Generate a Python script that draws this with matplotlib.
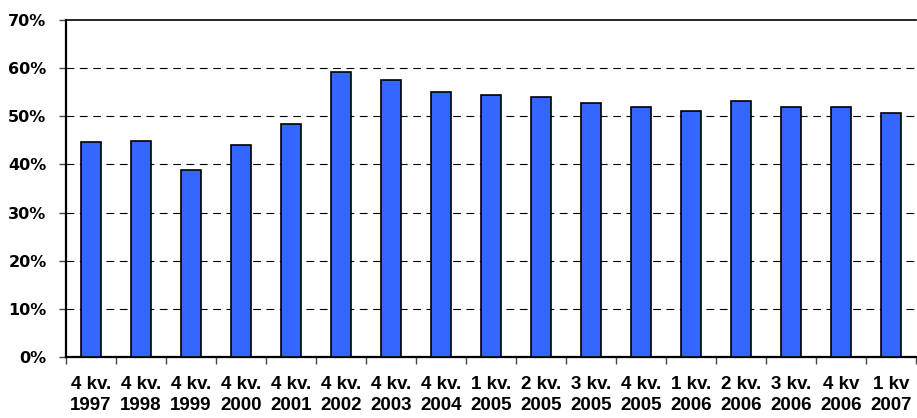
import numpy as np
import matplotlib.pyplot as plt
from matplotlib.ticker import FuncFormatter

quarters = ['4 kv.', '4 kv.', '4 kv.', '4 kv.', '4 kv.', '4 kv.', '4 kv.', '4 kv.',
            '1 kv.', '2 kv.', '3 kv.', '4 kv.', '1 kv.', '2 kv.', '3 kv.', '4 kv', '1 kv']
years = ['1997', '1998', '1999', '2000', '2001', '2002', '2003', '2004',
         '2005', '2005', '2005', '2005', '2006', '2006', '2006', '2006', '2007']
values = [44.7, 44.9, 38.9, 44.0, 48.4, 59.2, 57.5, 55.0,
          54.4, 54.1, 52.8, 51.9, 51.0, 53.2, 51.9, 51.9, 50.6]

labels = [q + '\n' + y for q, y in zip(quarters, years)]

fig = plt.figure(figsize=(9.17, 4.18), dpi=100)
ax = fig.add_axes([66 / 917, 61 / 418, 850 / 917, 337 / 418])

x = np.arange(len(values))
ax.bar(x, values, width=0.4, color='#3366ff', edgecolor='black', linewidth=1.2, zorder=3)

ax.set_xlim(-0.5, len(values) - 0.5)
ax.set_ylim(0, 70)
ax.set_yticks(np.arange(0, 71, 10))
ax.yaxis.set_major_formatter(FuncFormatter(lambda v, p: '%d%%' % v))

# dashed gridlines (top one is the frame)
for v in range(10, 70, 10):
    ax.axhline(v, color='black', linewidth=0.8, linestyle=(0, (7, 5)), zorder=1)

# ticks sit between the categories
ax.set_xticks(np.arange(len(values) + 1) - 0.5, minor=False)
ax.set_xticklabels([])
ax.set_xticks(x, minor=True)
ax.set_xticklabels(labels, minor=True)
for t in ax.get_xticklabels(minor=True):
    t.set_fontfamily('Liberation Sans')
    t.set_fontweight('bold')
    t.set_fontsize(13.5)
    t.set_linespacing(1.25)
ax.tick_params(axis='x', which='minor', length=0, pad=14)
ax.tick_params(axis='x', which='major', direction='out', length=5, width=1, color='#444444')
ax.tick_params(axis='y', direction='out', length=5, width=1, color='#444444', pad=9)
for t in ax.get_yticklabels():
    t.set_fontweight('bold')
    t.set_fontsize(11.5)

for s in ['left', 'bottom']:
    ax.spines[s].set_linewidth(1.6)
ax.spines['top'].set_linewidth(1.2)
ax.spines['right'].set_visible(False)

plt.savefig('out.png', dpi=100)
